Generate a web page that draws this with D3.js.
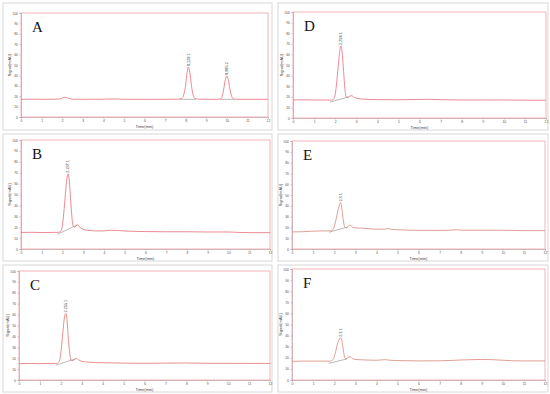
<!DOCTYPE html>
<html><head><meta charset="utf-8">
<script src="https://cdn.jsdelivr.net/npm/d3@7"></script>
<style>body{margin:0;background:#fff}svg{display:block}</style>
</head><body><div id="chart"></div>
<script>
// ---- data ----
const xTicks = [0,1,2,3,4,5,6,7,8,9,10,11,12];
const yTicks = [0,10,20,30,40,50,60,70,80,90,100];
const panelIds = ["A","B","C","D","E","F"];
const xLabel = "Time(min)";
const yLabel = "Signal(mAU)";

const traceA = [[0,17],[0.5,17.2],[1,17],[1.5,17.1],[1.9,17.3],[2.05,18.8],[2.15,19],[2.3,18],[2.5,17.2],[3,17],[4,17.1],[4.5,17.4],[5,17],[6,17],[7,17],[7.6,17.1],[7.8,17.8],[7.9,21],[7.98,28],[8.05,40],[8.13,48],[8.2,43],[8.27,32],[8.35,22],[8.45,18],[8.6,17.2],[9,17],[9.5,17],[9.7,17.4],[9.78,20],[9.85,27],[9.93,36],[10.0,39.5],[10.07,36],[10.15,27],[10.23,20],[10.32,17.6],[10.5,17],[11,17],[12,17]];
const traceB = [[0,15.2],[0.5,15.3],[1,15.1],[1.5,15.2],[1.8,15.3],[1.9,16],[2.0,22],[2.08,37],[2.16,55],[2.23,67],[2.27,69],[2.33,62],[2.39,46],[2.45,30],[2.52,21],[2.58,20],[2.66,21.5],[2.72,22.3],[2.8,20.5],[2.95,18.5],[3.2,17.2],[3.6,16.6],[4,16.6],[4.3,17.2],[4.7,17],[5,16.5],[6,16],[7,15.8],[8,15.8],[9,15.6],[10,15.6],[10.5,15.2],[11,15],[12,15]];
const traceC = [[0,15],[0.5,15.2],[1,15],[1.5,15.2],[1.8,15.2],[1.92,17],[2.0,25],[2.08,40],[2.15,54],[2.2,60],[2.25,61],[2.3,54],[2.36,38],[2.43,24],[2.5,18],[2.58,17.8],[2.68,19.2],[2.75,19.8],[2.85,18.5],[3.0,17.2],[3.3,16.4],[4,15.8],[5,15.5],[6,15.3],[7,15.5],[8,15.6],[9,15.3],[10,15.3],[11,15.2],[12,15.2]];
const traceD = [[0,17],[0.5,17.2],[1,17],[1.5,17],[1.75,16.8],[1.9,17.3],[2.0,22],[2.08,35],[2.16,52],[2.24,66],[2.28,68],[2.34,60],[2.4,44],[2.46,28],[2.52,20],[2.6,19.5],[2.7,20.8],[2.78,21],[2.9,19.5],[3.05,18.5],[3.3,17.8],[4,17.4],[5,17.2],[6,17.5],[6.5,17.6],[7,17.3],[8,17],[9,17],[10,17],[11,16.8],[12,16.8]];
const traceE = [[0,15.8],[0.5,16],[1,16.5],[1.5,16.8],[1.8,16.8],[1.95,18],[2.05,24],[2.15,33],[2.25,41],[2.3,43],[2.36,38],[2.43,27],[2.5,20.5],[2.58,19.5],[2.68,21.5],[2.75,22.3],[2.85,20.5],[3.0,19.5],[3.3,19.3],[3.6,18.8],[4,18.4],[4.4,18.4],[4.55,18.9],[4.7,18.3],[5,17.8],[6,17.3],[7,17.2],[7.5,17.4],[7.8,17.8],[8.1,17.4],[9,17.4],[10,17.4],[11,17],[12,17]];
const traceF = [[0,16.8],[0.5,17],[1,17],[1.5,17],[1.8,17],[1.95,18.5],[2.05,24],[2.15,32],[2.25,37],[2.32,38],[2.38,34],[2.45,25],[2.52,19.5],[2.6,19],[2.68,20.8],[2.75,21],[2.85,19.5],[3.0,18.5],[3.3,18.2],[4,17.8],[4.45,18.3],[4.6,17.9],[5,17.5],[6,17.2],[7,17.3],[7.5,17.6],[8,18],[8.5,18.3],[9,18.5],[9.5,18.3],[10,17.8],[10.5,17.3],[11,17.2],[12,17.2]];

const baseA = [[[7.7,17],[8.5,17]],[[9.7,17],[10.35,17]]];
const baseB = [[[1.75,13.5],[2.7,22]]];
const baseC = [[[1.75,13.5],[2.7,19.5]]];
const baseD = [[[1.75,15],[2.65,20]]];
const baseE = [[[1.75,15.5],[2.65,20.5]]];
const baseF = [[[1.75,15],[2.6,19]]];

const peakLabelsA = [[8.13,48,"8.129  1"],[10.0,39.5,"9.995  2"]];
const peakLabelsB = [[2.27,69,"2.237  1"]];
const peakLabelsC = [[2.25,61,"2.255  1"]];
const peakLabelsD = [[2.28,68,"2.258  1"]];
const peakLabelsE = [[2.3,43,"2.3  1"]];
const peakLabelsF = [[2.32,38,"2.3  1"]];

const traces = {A:traceA,B:traceB,C:traceC,D:traceD,E:traceE,F:traceF};
const bases = {A:baseA,B:baseB,C:baseC,D:baseD,E:baseE,F:baseF};
const peaks = {A:peakLabelsA,B:peakLabelsB,C:peakLabelsC,D:peakLabelsD,E:peakLabelsE,F:peakLabelsF};

// ---- layout ----
const layout = {
  A:{outer:[3,3,269,127], plot:[21,13,268,117]},
  B:{outer:[3,134,269,127], plot:[21,140,270,249]},
  C:{outer:[3,265,269,127], plot:[19,271,270,380]},
  D:{outer:[278,3,270,127], plot:[293,12,546,118]},
  E:{outer:[278,134,270,127], plot:[292,141,545,249]},
  F:{outer:[278,265,270,127], plot:[292,269,545,380]}
};
const traceColor = {A:"#ea6b78",B:"#ea6b78",C:"#e27470",D:"#ea6b78",E:"#d8877a",F:"#d8877a"};

const W=550,H=394;
const svg = d3.select("#chart").append("svg").attr("width",W).attr("height",H);

panelIds.forEach(id=>{
  const L = layout[id];
  const g = svg.append("g");
  g.append("rect").attr("x",L.outer[0]).attr("y",L.outer[1]).attr("width",L.outer[2]).attr("height",L.outer[3])
    .attr("fill","#fff").attr("stroke","#d8d8d8").attr("stroke-width",1);
  const [x0,y0,x1,y1] = L.plot;
  const x = d3.scaleLinear().domain([0,12]).range([x0,x1]);
  const y = d3.scaleLinear().domain([0,100]).range([y1,y0]);

  // axes
  const xa = g.append("g").attr("transform",`translate(0,${y1})`)
    .call(d3.axisBottom(x).tickValues(xTicks).tickSize(1.5).tickPadding(1.2).tickFormat(d3.format("d")));
  const ya = g.append("g").attr("transform",`translate(${x0},0)`)
    .call(d3.axisLeft(y).tickValues(yTicks).tickSize(1.5).tickPadding(1.5).tickFormat(d3.format("d")));
  [xa,ya].forEach(a=>{
    a.selectAll("path").attr("stroke","#999").attr("stroke-width",0.6);
    a.selectAll("line").attr("stroke","#999").attr("stroke-width",0.5);
    a.selectAll("text").attr("font-size",3.4).attr("fill","#555").attr("font-family","Liberation Sans, Arial");
  });
  // plot frame
  g.append("rect").attr("x",x0).attr("y",y0).attr("width",x1-x0).attr("height",y1-y0)
    .attr("fill","none").attr("stroke","#f2a0a8").attr("stroke-width",0.8);

  // axis labels
  g.append("text").attr("x",(x0+x1)/2).attr("y",y1+10.5).attr("text-anchor","middle")
    .attr("font-size",4).attr("fill","#444").attr("font-family","Liberation Sans, Arial").text(xLabel);
  g.append("text").attr("transform",`translate(${x0-10.5},${(y0+y1)/2}) rotate(-90)`).attr("text-anchor","middle")
    .attr("font-size",4).attr("fill","#444").attr("font-family","Liberation Sans, Arial").text(yLabel);

  // integration baselines
  const line = d3.line().x(d=>x(d[0])).y(d=>y(d[1]));
  bases[id].forEach(seg=>{
    g.append("path").attr("d",line(seg)).attr("fill","none").attr("stroke","#8a8a8a").attr("stroke-width",0.6);
  });
  // trace
  g.append("path").attr("d",line.curve(d3.curveMonotoneX)(traces[id])).attr("fill","none")
    .attr("stroke",traceColor[id]).attr("stroke-width",0.8);

  // peak labels
  peaks[id].forEach(p=>{
    g.append("text").attr("transform",`translate(${x(p[0])+1.3},${y(p[1])-1}) rotate(-90)`)
      .attr("font-size",3.8).attr("fill","#333").attr("font-family","Liberation Sans, Arial").text(p[2]);
  });

  // panel letter
  g.append("text").attr("x",x0+11).attr("y",y0+19).attr("font-size",15)
    .attr("font-family","Liberation Serif, Times New Roman, serif").attr("fill","#111").text(id);
});
</script></body></html>
